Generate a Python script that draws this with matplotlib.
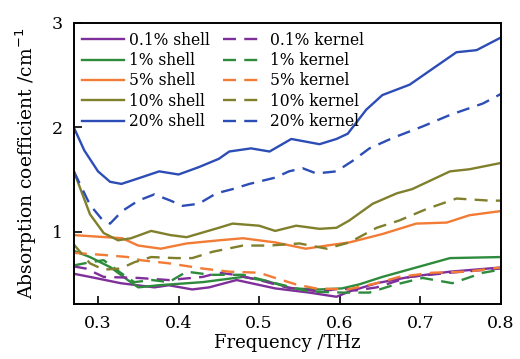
import matplotlib
matplotlib.use("Agg")
from matplotlib import pyplot as plt

# values
f_blue_s = [0.27, 0.283, 0.30, 0.315, 0.329, 0.345, 0.376, 0.40, 0.425, 0.45, 0.463, 0.49, 0.513, 0.54, 0.575, 0.596, 0.61, 0.633, 0.653, 0.687, 0.715, 0.745, 0.77, 0.80]
a_blue_s = [2.00, 1.78, 1.58, 1.48, 1.46, 1.50, 1.58, 1.55, 1.62, 1.70, 1.77, 1.80, 1.77, 1.89, 1.84, 1.89, 1.94, 2.17, 2.31, 2.41, 2.56, 2.72, 2.74, 2.86]

f_blue_k = [0.27, 0.29, 0.305, 0.315, 0.33, 0.35, 0.37, 0.39, 0.405, 0.425, 0.447, 0.467, 0.488, 0.52, 0.537, 0.554, 0.571, 0.596, 0.616, 0.637, 0.666, 0.703, 0.737, 0.778, 0.80]
a_blue_k = [1.58, 1.26, 1.12, 1.08, 1.20, 1.30, 1.36, 1.30, 1.25, 1.27, 1.37, 1.41, 1.46, 1.52, 1.58, 1.61, 1.56, 1.58, 1.68, 1.80, 1.90, 2.01, 2.12, 2.23, 2.32]

f_olive_s = [0.27, 0.29, 0.307, 0.325, 0.341, 0.366, 0.39, 0.41, 0.45, 0.467, 0.50, 0.52, 0.546, 0.575, 0.596, 0.612, 0.641, 0.671, 0.69, 0.737, 0.761, 0.80]
a_olive_s = [1.58, 1.17, 0.99, 0.92, 0.94, 1.01, 0.97, 0.95, 1.04, 1.08, 1.06, 1.01, 1.06, 1.03, 1.04, 1.11, 1.27, 1.37, 1.41, 1.58, 1.60, 1.66]

f_olive_k = [0.27, 0.29, 0.307, 0.328, 0.345, 0.366, 0.397, 0.417, 0.442, 0.48, 0.513, 0.55, 0.584, 0.612, 0.646, 0.674, 0.708, 0.745, 0.786, 0.80]
a_olive_k = [0.88, 0.70, 0.64, 0.65, 0.71, 0.76, 0.75, 0.75, 0.81, 0.87, 0.87, 0.89, 0.84, 0.90, 1.04, 1.11, 1.22, 1.32, 1.30, 1.30]

f_orange_s = [0.27, 0.33, 0.35, 0.378, 0.41, 0.45, 0.48, 0.52, 0.558, 0.584, 0.612, 0.653, 0.695, 0.733, 0.761, 0.80]
a_orange_s = [0.97, 0.94, 0.87, 0.84, 0.89, 0.92, 0.94, 0.90, 0.84, 0.87, 0.90, 0.98, 1.08, 1.09, 1.16, 1.20]

f_orange_k = [0.27, 0.307, 0.337, 0.353, 0.388, 0.43, 0.463, 0.50, 0.52, 0.545, 0.57, 0.61, 0.646, 0.674, 0.715, 0.758, 0.80]
a_orange_k = [0.80, 0.78, 0.76, 0.73, 0.70, 0.65, 0.62, 0.61, 0.56, 0.50, 0.46, 0.45, 0.51, 0.57, 0.61, 0.62, 0.66]

f_green_s = [0.27, 0.29, 0.316, 0.337, 0.35, 0.375, 0.43, 0.48, 0.51, 0.54, 0.575, 0.603, 0.625, 0.653, 0.695, 0.737, 0.80]
a_green_s = [0.82, 0.76, 0.66, 0.54, 0.47, 0.49, 0.52, 0.57, 0.53, 0.46, 0.45, 0.46, 0.50, 0.57, 0.66, 0.75, 0.76]

f_green_k = [0.27, 0.29, 0.307, 0.328, 0.345, 0.367, 0.388, 0.41, 0.44, 0.48, 0.52, 0.562, 0.603, 0.637, 0.666, 0.703, 0.74, 0.778, 0.80]
a_green_k = [0.68, 0.71, 0.73, 0.61, 0.52, 0.54, 0.52, 0.62, 0.59, 0.59, 0.51, 0.43, 0.42, 0.42, 0.49, 0.56, 0.51, 0.61, 0.64]

f_purple_s = [0.27, 0.29, 0.328, 0.37, 0.388, 0.417, 0.438, 0.472, 0.49, 0.52, 0.562, 0.596, 0.612, 0.646, 0.687, 0.737, 0.80]
a_purple_s = [0.60, 0.57, 0.51, 0.47, 0.49, 0.45, 0.47, 0.54, 0.51, 0.46, 0.42, 0.38, 0.43, 0.51, 0.57, 0.62, 0.66]

f_purple_k = [0.27, 0.285, 0.307, 0.35, 0.388, 0.43, 0.45, 0.47, 0.50, 0.534, 0.575, 0.603, 0.62, 0.646, 0.687, 0.737, 0.80]
a_purple_k = [0.67, 0.65, 0.57, 0.56, 0.54, 0.57, 0.61, 0.59, 0.54, 0.47, 0.43, 0.46, 0.44, 0.47, 0.57, 0.61, 0.65]

labels = ['0.1%', '1%', '5%', '10%', '20%']
colors = ['#7E2F9A', '#2E8B3C', '#F27B35', '#7F7F2C', '#2C4DB6']

shells = [(f_purple_s, a_purple_s), (f_green_s, a_green_s), (f_orange_s, a_orange_s),
          (f_olive_s, a_olive_s), (f_blue_s, a_blue_s)]
kernels = [(f_purple_k, a_purple_k), (f_green_k, a_green_k), (f_orange_k, a_orange_k),
           (f_olive_k, a_olive_k), (f_blue_k, a_blue_k)]

plt.rcParams['font.family'] = ['DejaVu Serif']

fig = plt.figure(figsize=(5.2, 3.59), dpi=100)
ax = fig.add_axes([0.142, 0.153, 0.821, 0.783])

for (f, a), lab, c in zip(shells, labels, colors):
    ax.plot(f, a, '-', color=c, lw=1.7, label=f'{lab} shell')
for (f, a), lab, c in zip(kernels, labels, colors):
    ax.plot(f, a, '--', color=c, lw=1.7, dashes=(5.5, 3.5), label=f'{lab} kernel')

ax.set_xlim(0.27, 0.8)
ax.set_ylim(0.31, 3.0)
ax.set_xticks([0.3, 0.4, 0.5, 0.6, 0.7, 0.8])
ax.set_yticks([1, 2, 3])
ax.tick_params(direction='in', length=6, width=1.2, labelsize=12.5, pad=8)
for s in ax.spines.values():
    s.set_linewidth(1.4)

ax.set_xlabel('Frequency /THz', fontsize=13, labelpad=1)
ax.set_ylabel('Absorption coefficient /cm$^{-1}$', fontsize=13.5, labelpad=9)

ax.legend(ncol=2, loc='upper left', frameon=False, fontsize=11.2,
          handlelength=2.7, labelspacing=0.22, columnspacing=0.85,
          handletextpad=0.3, borderaxespad=0.15)

fig.savefig('out.png', dpi=100)
